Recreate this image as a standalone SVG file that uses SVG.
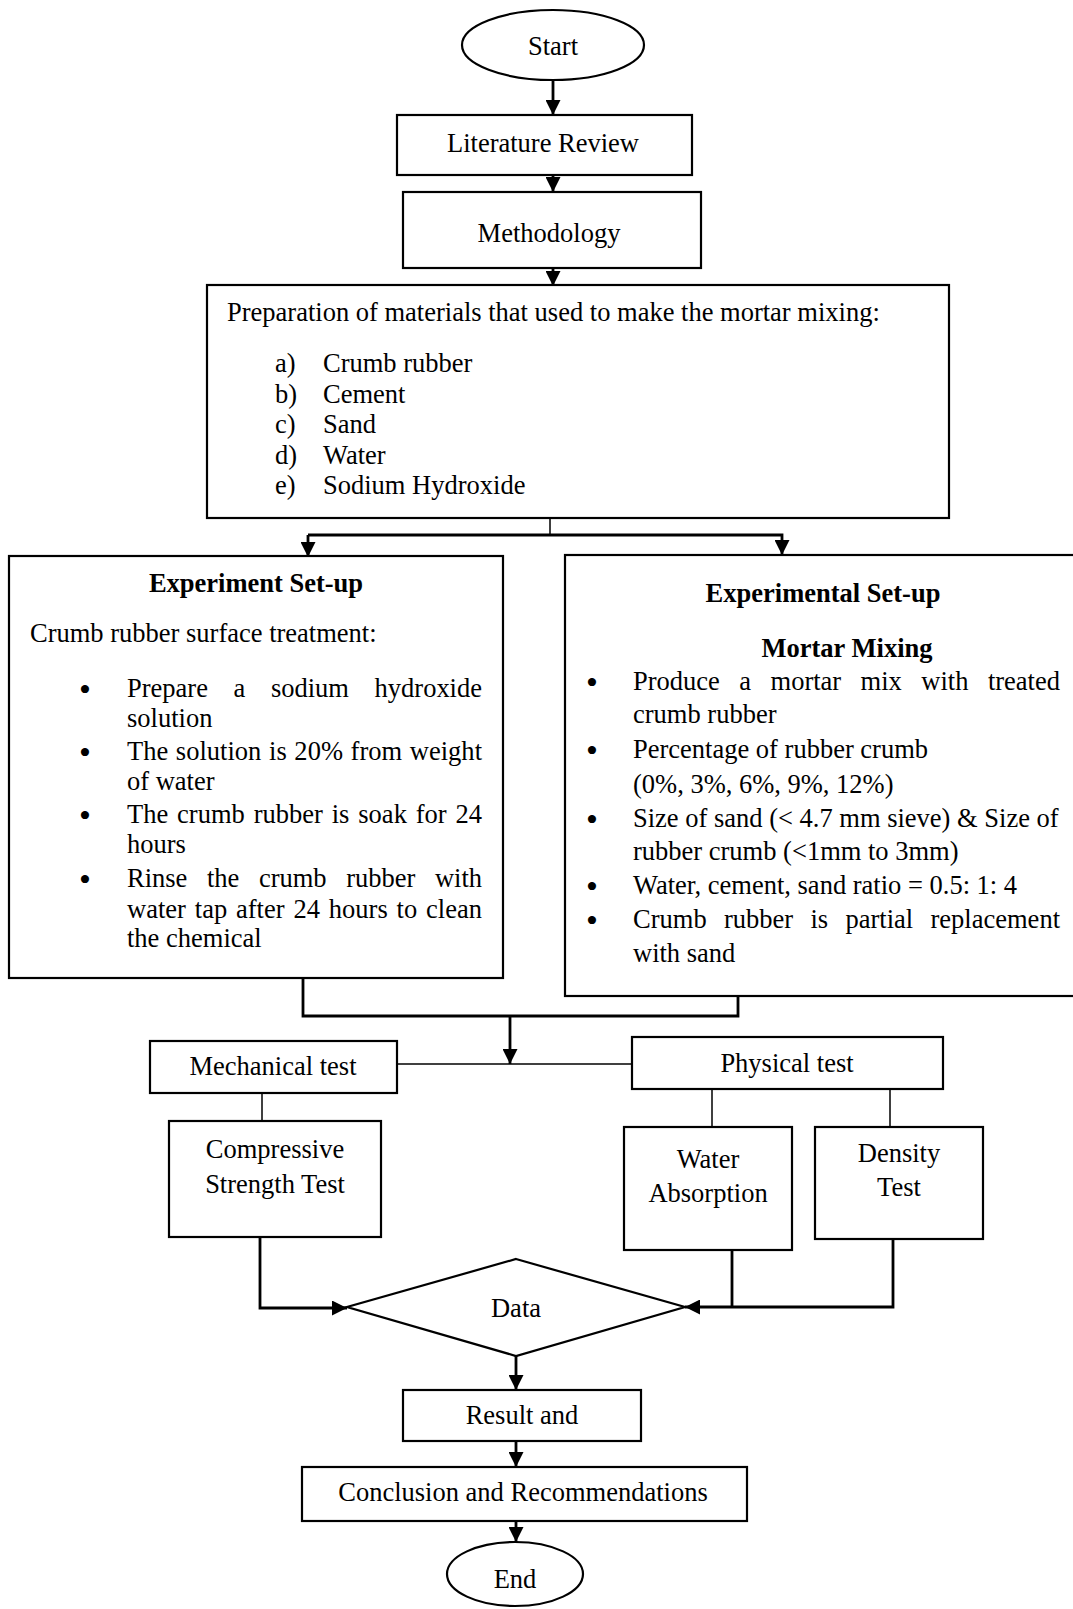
<svg xmlns="http://www.w3.org/2000/svg" width="1073" height="1609" viewBox="0 0 1073 1609">
<style>
.bx{fill:#fff;stroke:#000;stroke-width:2.2}
.t{font-family:"Liberation Serif","Times New Roman",serif;font-size:26.5px;fill:#000}
.c{text-anchor:middle}
.b{font-weight:bold}
.bl{font-family:"Liberation Serif","Times New Roman",serif;font-size:34px;fill:#000;text-anchor:middle}
.ln{fill:none;stroke:#000;stroke-width:2.8}
.th{fill:none;stroke:#000;stroke-width:1.5}
</style>
<defs>
<marker id="ah" markerUnits="userSpaceOnUse" markerWidth="15" markerHeight="15" refX="15" refY="7.5" orient="auto">
<path d="M0,0 L15,7.5 L0,15 z" fill="#000"/>
</marker>
</defs>
<rect width="1073" height="1609" fill="#fff"/>

<g id="connectors">
<line class="ln" x1="553" y1="80" x2="553" y2="115" marker-end="url(#ah)"/>
<line class="ln" x1="553" y1="175" x2="553" y2="192" marker-end="url(#ah)"/>
<line class="ln" x1="553" y1="268" x2="553" y2="286" marker-end="url(#ah)"/>
<line class="th" x1="550" y1="518" x2="550" y2="535"/>
<polyline class="ln" points="308,535 782,535 782,555" marker-end="url(#ah)"/>
<line class="ln" x1="308" y1="535" x2="308" y2="557" marker-end="url(#ah)"/>
<polyline class="ln" points="303,978 303,1016 738,1016 738,996"/>
<line class="ln" x1="510" y1="1016" x2="510" y2="1064" marker-end="url(#ah)"/>
<line class="th" x1="397" y1="1064" x2="632" y2="1064"/>
<line class="th" x1="262" y1="1093" x2="262" y2="1121"/>
<line class="th" x1="712" y1="1089" x2="712" y2="1127"/>
<line class="th" x1="890" y1="1089" x2="890" y2="1127"/>
<polyline class="ln" points="260,1237 260,1308 347,1308" marker-end="url(#ah)"/>
<line class="ln" x1="732" y1="1250" x2="732" y2="1307"/>
<polyline class="ln" points="893,1239 893,1307 685,1307" marker-end="url(#ah)"/>
<line class="ln" x1="516" y1="1356" x2="516" y2="1390" marker-end="url(#ah)"/>
<line class="ln" x1="516" y1="1441" x2="516" y2="1467" marker-end="url(#ah)"/>
<line class="ln" x1="516" y1="1521" x2="516" y2="1542" marker-end="url(#ah)"/>
</g>

<g id="start">
<ellipse class="bx" cx="553" cy="45" rx="91" ry="35"/>
<text class="t c" x="553" y="55">Start</text>
</g>

<g id="literature">
<rect class="bx" x="397" y="115" width="295" height="60"/>
<text class="t c" x="543" y="152">Literature Review</text>
</g>

<g id="methodology">
<rect class="bx" x="403" y="192" width="298" height="76"/>
<text class="t c" x="549" y="242">Methodology</text>
</g>

<g id="preparation">
<rect class="bx" x="207" y="285" width="742" height="233"/>
<text class="t" x="227" y="321">Preparation of materials that used to make the mortar mixing:</text>
<text class="t" x="275" y="372">a)</text><text class="t" x="323" y="372">Crumb rubber</text>
<text class="t" x="275" y="403">b)</text><text class="t" x="323" y="403">Cement</text>
<text class="t" x="275" y="433">c)</text><text class="t" x="323" y="433">Sand</text>
<text class="t" x="275" y="464">d)</text><text class="t" x="323" y="464">Water</text>
<text class="t" x="275" y="494">e)</text><text class="t" x="323" y="494">Sodium Hydroxide</text>
</g>

<g id="experiment-setup">
<rect class="bx" x="9" y="556" width="494" height="422"/>
<text class="t c b" x="256" y="592">Experiment Set-up</text>
<text class="t" x="30" y="642">Crumb rubber surface treatment:</text>
<text class="bl" x="85" y="701">•</text>
<text class="t" x="127" y="697" word-spacing="19" textLength="355" lengthAdjust="spacing">Prepare a sodium hydroxide</text>
<text class="t" x="127" y="727">solution</text>
<text class="bl" x="85" y="764">•</text>
<text class="t" x="127" y="760" word-spacing="1" textLength="355" lengthAdjust="spacing">The solution is 20% from weight</text>
<text class="t" x="127" y="790">of water</text>
<text class="bl" x="85" y="827">•</text>
<text class="t" x="127" y="823" word-spacing="2.2" textLength="355" lengthAdjust="spacing">The crumb rubber is soak for 24</text>
<text class="t" x="127" y="853">hours</text>
<text class="bl" x="85" y="891">•</text>
<text class="t" x="127" y="887" word-spacing="13" textLength="355" lengthAdjust="spacing">Rinse the crumb rubber with</text>
<text class="t" x="127" y="918" word-spacing="2.2" textLength="355" lengthAdjust="spacing">water tap after 24 hours to clean</text>
<text class="t" x="127" y="947">the chemical</text>
</g>

<g id="experimental-setup">
<rect class="bx" x="565" y="555" width="520" height="441"/>
<text class="t c b" x="823" y="602">Experimental Set-up</text>
<text class="t c b" x="847" y="657">Mortar Mixing</text>
<text class="bl" x="592" y="694">•</text>
<text class="t" x="633" y="690" word-spacing="12.8" textLength="427" lengthAdjust="spacing">Produce a mortar mix with treated</text>
<text class="t" x="633" y="723">crumb rubber</text>
<text class="bl" x="592" y="762">•</text>
<text class="t" x="633" y="758">Percentage of rubber crumb</text>
<text class="t" x="633" y="793">(0%, 3%, 6%, 9%, 12%)</text>
<text class="bl" x="592" y="831">•</text>
<text class="t" x="633" y="827">Size of sand (&lt; 4.7 mm sieve) &amp; Size of</text>
<text class="t" x="633" y="860">rubber crumb (&lt;1mm to 3mm)</text>
<text class="bl" x="592" y="898">•</text>
<text class="t" x="633" y="894">Water, cement, sand ratio = 0.5: 1: 4</text>
<text class="bl" x="592" y="932">•</text>
<text class="t" x="633" y="928" word-spacing="10.7" textLength="427" lengthAdjust="spacing">Crumb rubber is partial replacement</text>
<text class="t" x="633" y="962">with sand</text>
</g>

<g id="mechanical">
<rect class="bx" x="150" y="1041" width="247" height="52"/>
<text class="t c" x="273" y="1075">Mechanical test</text>
</g>

<g id="physical">
<rect class="bx" x="632" y="1037" width="311" height="52"/>
<text class="t c" x="787" y="1072">Physical test</text>
</g>

<g id="compressive">
<rect class="bx" x="169" y="1121" width="212" height="116"/>
<text class="t c" x="275" y="1158">Compressive</text>
<text class="t c" x="275" y="1193">Strength Test</text>
</g>

<g id="water-absorption">
<rect class="bx" x="624" y="1127" width="168" height="123"/>
<text class="t c" x="708" y="1168">Water</text>
<text class="t c" x="708" y="1202">Absorption</text>
</g>

<g id="density">
<rect class="bx" x="815" y="1127" width="168" height="112"/>
<text class="t c" x="899" y="1162">Density</text>
<text class="t c" x="899" y="1196">Test</text>
</g>

<g id="data">
<polygon class="bx" points="516,1259 685,1307 516,1356 347,1307"/>
<text class="t c" x="516" y="1317">Data</text>
</g>

<g id="result">
<rect class="bx" x="403" y="1390" width="238" height="51"/>
<text class="t c" x="522" y="1424">Result and</text>
</g>

<g id="conclusion">
<rect class="bx" x="302" y="1467" width="445" height="54"/>
<text class="t c" x="523" y="1501">Conclusion and Recommendations</text>
</g>

<g id="end">
<ellipse class="bx" cx="515" cy="1574" rx="68" ry="32"/>
<text class="t c" x="515" y="1588">End</text>
</g>
</svg>
